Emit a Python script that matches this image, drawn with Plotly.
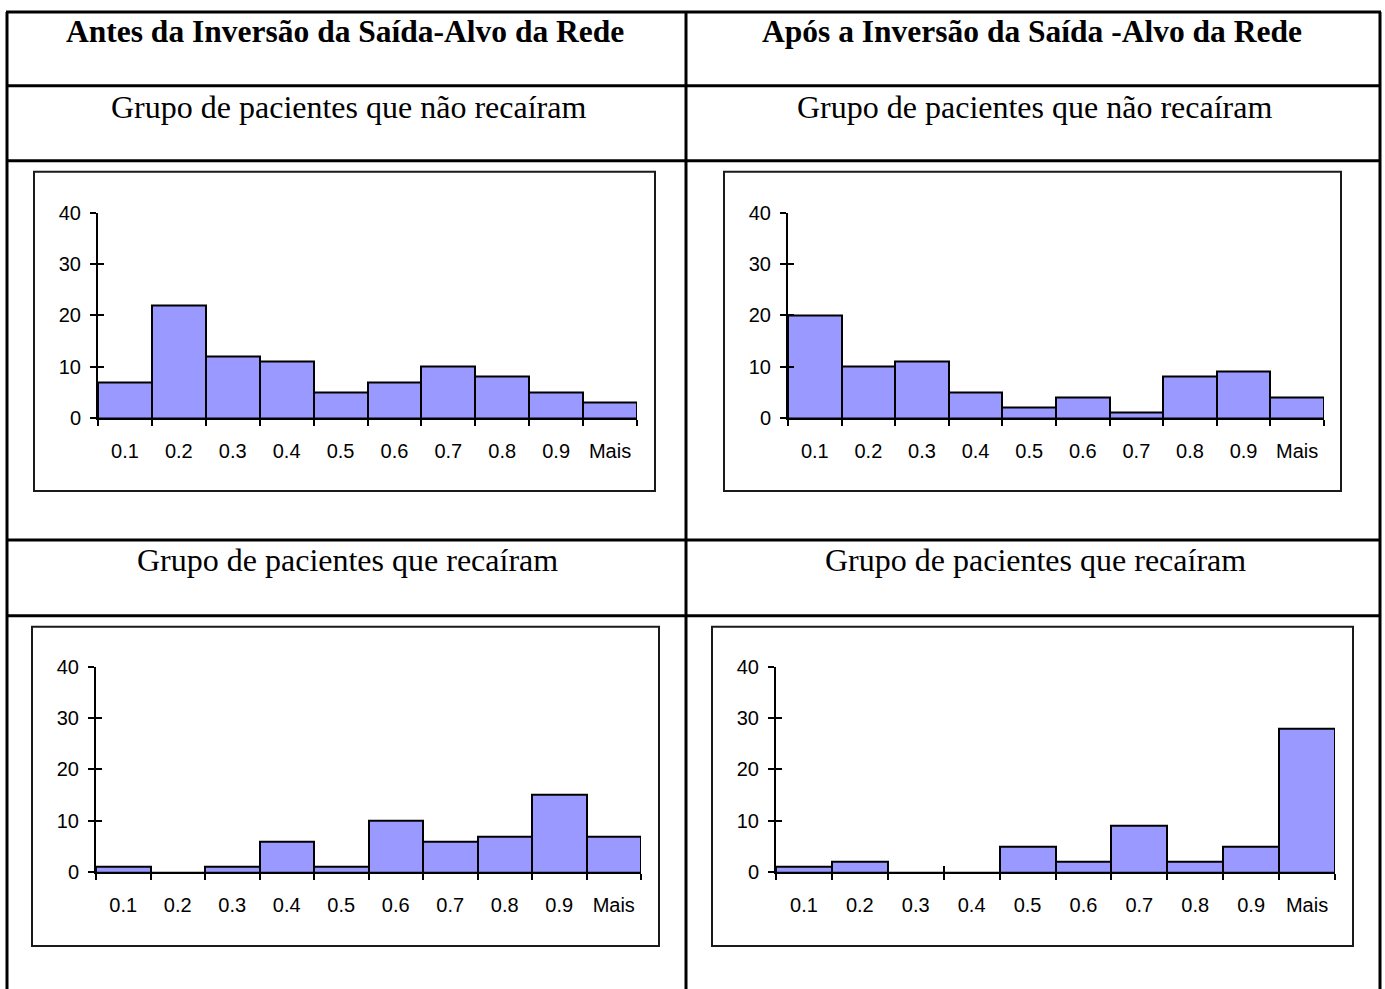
import plotly.graph_objects as go

# Histogram bins and frequencies for each panel
categories = ["0.1", "0.2", "0.3", "0.4", "0.5", "0.6", "0.7", "0.8", "0.9", "Mais"]
antes_nao_recairam = [7, 22, 12, 11, 5, 7, 10, 8, 5, 3]
apos_nao_recairam = [20, 10, 11, 5, 2, 4, 1, 8, 9, 4]
antes_recairam = [1, 0, 1, 6, 1, 10, 6, 7, 15, 7]
apos_recairam = [1, 2, 0, 0, 5, 2, 9, 2, 5, 28]

col_titles = ["Antes da Inversão da Saída-Alvo da Rede", "Após a Inversão da Saída -Alvo da Rede"]
row_titles = ["Grupo de pacientes que não recaíram", "Grupo de pacientes que recaíram"]

W, H = 1385, 989
BAR_FILL = "#9999FF"
SERIF = "Liberation Serif, Times New Roman, serif"
SANS = "Liberation Sans, Arial, sans-serif"

# vertical placement helper: page pixel -> paper fraction
Y_TOP, Y_SPAN = 10.0, 969.0


def fx(px):
    return px / W


def fy(py):
    return 1 - (py - Y_TOP) / Y_SPAN


# plot areas in pixels: (x_left, x_right, y_top(40), y_bottom(0)) and frame boxes
panels = [
    (antes_nao_recairam, (98, 637, 212, 418), (34, 655, 171, 491)),
    (apos_nao_recairam, (788, 1324, 212, 418), (724, 1341, 171, 491)),
    (antes_recairam, (96, 641, 667, 873), (32, 659, 627, 947)),
    (apos_recairam, (776, 1335, 667, 873), (712, 1353, 627, 947)),
]

fig = go.Figure()
layout = {}
shapes = []

for i, (vals, area, box) in enumerate(panels):
    n = i + 1
    ov = n + 4  # overlay axes carrying the inner half of the crossing ticks
    xl, xr, yt, yb = area
    xdom = [fx(xl), fx(xr)]
    ydom = [fy(yb), fy(yt)]

    fig.add_trace(go.Bar(
        x=categories, y=vals, width=1,
        marker=dict(color=BAR_FILL, line=dict(color="black", width=2)),
        xaxis=f"x{n}", yaxis=f"y{n}", showlegend=False, hoverinfo="skip",
    ))
    fig.add_trace(go.Bar(
        x=categories, y=[0] * len(categories), width=1,
        marker=dict(color="rgba(0,0,0,0)", line=dict(width=0)),
        xaxis=f"x{ov}", yaxis=f"y{ov}", showlegend=False, hoverinfo="skip",
    ))

    common_x = dict(
        type="category", range=[-0.5, len(categories) - 0.5], domain=xdom,
        tickson="boundaries", ticklen=6, tickwidth=2, tickcolor="black",
        showgrid=False, zeroline=False, fixedrange=True,
    )
    common_y = dict(
        range=[0, 40], dtick=10, tick0=0, domain=ydom,
        ticklen=6, tickwidth=2, tickcolor="black",
        showgrid=False, zeroline=False, fixedrange=True,
    )

    layout[f"xaxis{n}"] = dict(
        common_x, anchor=f"y{n}", ticks="outside", showline=True,
        linecolor="black", linewidth=2,
        tickfont=dict(family=SANS, size=20, color="black"),
        ticklabelstandoff=14,
    )
    layout[f"yaxis{n}"] = dict(
        common_y, anchor=f"x{n}", ticks="outside", showline=True,
        linecolor="black", linewidth=2,
        tickfont=dict(family=SANS, size=20, color="black"),
        ticklabelstandoff=5,
    )
    layout[f"xaxis{ov}"] = dict(
        common_x, anchor=f"y{ov}", overlaying=f"x{n}", ticks="inside",
        showline=False, showticklabels=False,
    )
    layout[f"yaxis{ov}"] = dict(
        common_y, anchor=f"x{ov}", overlaying=f"y{n}", ticks="inside",
        showline=False, showticklabels=False, side="left",
    )

    bx0, bx1, by0, by1 = box
    shapes.append(dict(
        type="rect", xref="paper", yref="paper",
        x0=fx(bx0), x1=fx(bx1), y0=fy(by1), y1=fy(by0),
        line=dict(color="#1a1a1a", width=2), fillcolor="rgba(0,0,0,0)",
    ))

# table rules
TL = dict(color="black", width=3)
left_x, right_x, mid_x, top_y = 7, 1380, 686, 11
for yy in (top_y, 85, 160, 540, 616):
    shapes.append(dict(type="line", xref="paper", yref="paper",
                       x0=fx(left_x - 1), x1=fx(right_x + 1), y0=fy(yy), y1=fy(yy), line=TL))
for xx in (left_x, mid_x, right_x):
    shapes.append(dict(type="line", xref="paper", yref="paper",
                       x0=fx(xx), x1=fx(xx), y0=fy(top_y), y1=fy(H + 20), line=TL))

annotations = []
col_centers = [345, 1032]
for cx, t in zip(col_centers, col_titles):
    annotations.append(dict(
        text=f"<b>{t}</b>", x=fx(cx), y=fy(31), xref="paper", yref="paper",
        xanchor="center", yanchor="middle", showarrow=False,
        font=dict(family=SERIF, size=31.5, color="black"),
    ))
for row_y, t, centers in zip((106, 560), row_titles, ((348, 1034), (347, 1035))):
    for cx in centers:
        annotations.append(dict(
            text=t, x=fx(cx), y=fy(row_y), xref="paper", yref="paper",
            xanchor="center", yanchor="middle", showarrow=False,
            font=dict(family=SERIF, size=32, color="black"),
        ))

fig.update_layout(
    width=W, height=H, margin=dict(l=0, r=0, t=0, b=0),
    paper_bgcolor="white", plot_bgcolor="rgba(0,0,0,0)",
    bargap=0, showlegend=False,
    shapes=shapes, annotations=annotations,
    **layout,
)

fig.write_html("out.html")
